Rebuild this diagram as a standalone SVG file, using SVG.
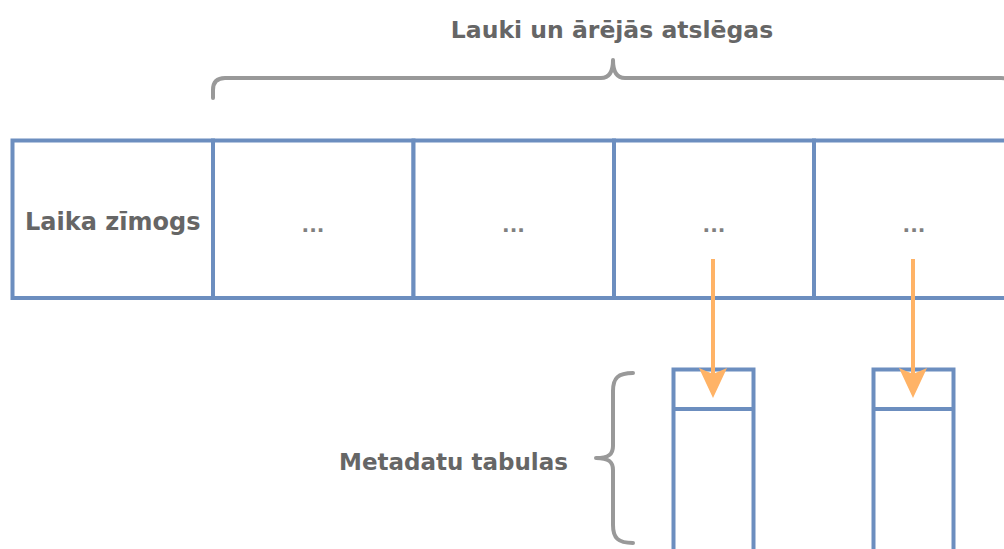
<svg xmlns="http://www.w3.org/2000/svg" width="1004" height="549" viewBox="0 0 1004 549">
  <style>
    .cell { fill: #ffffff; stroke: #6C8EBF; stroke-width: 4; }
    .lbl { font-family: "DejaVu Sans", "Liberation Sans", sans-serif; font-weight: bold; font-size: 24px; fill: #666666; text-anchor: middle; }
    .dots { font-family: "DejaVu Sans", "Liberation Sans", sans-serif; font-weight: bold; font-size: 20px; fill: #808080; text-anchor: middle; }
    .brace { fill: none; stroke: #999999; stroke-width: 4; stroke-linecap: round; stroke-linejoin: round; }
    .arrow { fill: none; stroke: #FFB366; stroke-width: 4; }
  </style>
  <defs>
    <marker id="head" markerUnits="userSpaceOnUse" markerWidth="32" markerHeight="30" refX="12" refY="14" orient="auto" viewBox="0 0 32 30">
      <path d="M0,0 L30,14 L0,28 L6,14 Z" fill="#FFB366"/>
    </marker>
  </defs>
  <rect width="1004" height="549" fill="#ffffff"/>

  <g id="label-top">
    <text class="lbl" x="612" y="38" style="font-size:23.5px">Lauki un ārējās atslēgas</text>
  </g>
  <g id="brace-top">
    <path class="brace" d="M213,98 L213,90 Q213,78 225,78 L601,78 Q613,78 613,60 Q613,78 625,78 L1001,78 Q1013,78 1013,90 L1013,98"/>
  </g>

  <g id="cell-timestamp">
    <rect class="cell" x="12.5" y="140.5" width="200.5" height="157.5"/>
    <text class="lbl" x="112.75" y="229.5">Laika zīmogs</text>
  </g>
  <g id="cell-1">
    <rect class="cell" x="213" y="140.5" width="200.5" height="157.5"/>
    <text class="dots" x="313" y="232">...</text>
  </g>
  <g id="cell-2">
    <rect class="cell" x="413.5" y="140.5" width="200.5" height="157.5"/>
    <text class="dots" x="513.5" y="232">...</text>
  </g>
  <g id="cell-3">
    <rect class="cell" x="614" y="140.5" width="200" height="157.5"/>
    <text class="dots" x="714" y="232">...</text>
  </g>
  <g id="cell-4">
    <rect class="cell" x="814" y="140.5" width="200" height="157.5"/>
    <text class="dots" x="914" y="232">...</text>
  </g>

  <g id="meta-table-1">
    <rect class="cell" x="673.5" y="369.5" width="80" height="240"/>
    <line x1="673.5" y1="409" x2="753.5" y2="409" stroke="#6C8EBF" stroke-width="4"/>
  </g>
  <g id="meta-table-2">
    <rect class="cell" x="873.5" y="369.5" width="80" height="240"/>
    <line x1="873.5" y1="409" x2="953.5" y2="409" stroke="#6C8EBF" stroke-width="4"/>
  </g>

  <g id="label-meta">
    <text class="lbl" x="453.5" y="470" style="font-size:23px">Metadatu tabulas</text>
  </g>
  <g id="brace-meta">
    <path class="brace" d="M633,373 C618,373 613,378 613,391 L613,446 C613,454 609,458 596,458 C609,458 613,462 613,470 L613,525 C613,538 618,543 633,543"/>
  </g>

  <g id="connectors">
    <line class="arrow" x1="713" y1="259" x2="713" y2="380" marker-end="url(#head)"/>
    <line class="arrow" x1="913" y1="259" x2="913" y2="380" marker-end="url(#head)"/>
  </g>
</svg>
